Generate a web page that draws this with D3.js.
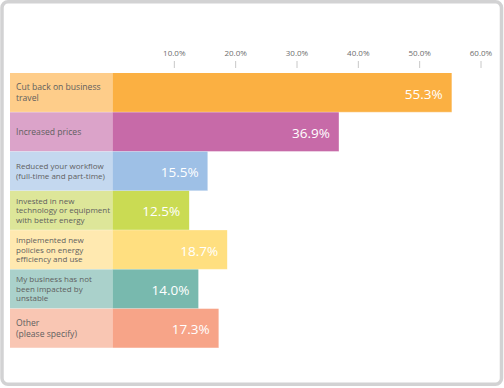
<!DOCTYPE html>
<html>
<head>
<meta charset="utf-8">
<script src="https://cdn.jsdelivr.net/npm/d3@7"></script>
<style>
  body { margin: 0; background: #fff; }
  svg { display: block; font-family: "Open Sans", sans-serif; }
</style>
</head>
<body>
<script>
// chart data
const categories = [
  ["Cut back on business", "travel"],
  ["Increased prices"],
  ["Reduced your workflow", "(full-time and part-time)"],
  ["Invested in new", "technology or equipment", "with better energy"],
  ["Implemented new", "policies on energy", "efficiency and use"],
  ["My business has not", "been impacted by", "unstable"],
  ["Other", "(please specify)"]
];
const values = [55.3, 36.9, 15.5, 12.5, 18.7, 14.0, 17.3];
const tickValues = [10, 20, 30, 40, 50, 60];
const barColors = ["#fbb042", "#c76aa8", "#9ec0e6", "#cadb53", "#ffdf80", "#78b9ae", "#f7a488"];
const labelColors = ["#fecd8a", "#dba3c9", "#c4d8ef", "#dde699", "#ffe9b0", "#aad1cb", "#f9c6b3"];

const width = 504, height = 388;

const svg = d3.select("body")
  .append("svg")
  .attr("width", width)
  .attr("height", height);

// frame
svg.append("rect")
  .attr("x", 2).attr("y", 1.75)
  .attr("width", 499.5).attr("height", 382.5)
  .attr("rx", 6)
  .attr("fill", "#fff")
  .attr("stroke", "#d2d2d3")
  .attr("stroke-width", 3.5);

const x = d3.scaleLinear().domain([0, 60]).range([112.5, 480.5]);
const y = d3.scaleBand().domain(d3.range(values.length)).range([73, 348]).padding(0);

// axis along the top
const axis = svg.append("g")
  .attr("transform", "translate(0,68)")
  .call(d3.axisTop(x).tickValues(tickValues).tickSize(7).tickPadding(5)
    .tickFormat(d => d3.format(".1f")(d) + "%"));
axis.select(".domain").remove();
axis.selectAll(".tick line").attr("stroke", "#c8c8c8");
axis.selectAll(".tick text")
  .attr("fill", "#6d6d6d")
  .style("font-size", "8px")
  .style("font-family", "'Open Sans', sans-serif");

const rows = svg.append("g")
  .selectAll("g")
  .data(values)
  .join("g")
  .attr("transform", (d, i) => `translate(0,${y(i)})`);

// label cell
rows.append("rect")
  .attr("x", 10)
  .attr("width", x(0) - 10)
  .attr("height", y.bandwidth())
  .attr("fill", (d, i) => labelColors[i]);

// value bar
rows.append("rect")
  .attr("x", x(0))
  .attr("width", d => x(d) - x(0))
  .attr("height", y.bandwidth())
  .attr("fill", (d, i) => barColors[i]);

// separators between rows
rows.append("line")
  .attr("x1", 10)
  .attr("x2", d => x(d))
  .attr("y1", y.bandwidth())
  .attr("y2", y.bandwidth())
  .attr("stroke", "#fff")
  .attr("stroke-opacity", 0.6)
  .attr("stroke-width", 0.8);

// category labels
rows.each(function (d, i) {
  const lines = categories[i];
  const small = lines.length > 2 || d3.max(lines, l => l.length) > 20;
  const fs = small ? 8 : 8.6;
  const lh = small ? 9.4 : 10.6;
  const t = d3.select(this).append("text")
    .attr("x", 16)
    .attr("fill", "#5f5f5f")
    .style("font-size", fs + "px");
  lines.forEach((l, j) => {
    t.append("tspan")
      .attr("x", 16)
      .attr("y", y.bandwidth() / 2 + (j - (lines.length - 1) / 2) * lh)
      .attr("dy", "0.35em")
      .text(l);
  });
});

// value labels
rows.append("text")
  .attr("x", d => x(d) - 9)
  .attr("y", y.bandwidth() / 2 + 1)
  .attr("dy", "0.36em")
  .attr("text-anchor", "end")
  .attr("fill", "#fff")
  .style("font-size", "13.5px")
  .text(d => d3.format(".1f")(d) + "%");
</script>
</body>
</html>
